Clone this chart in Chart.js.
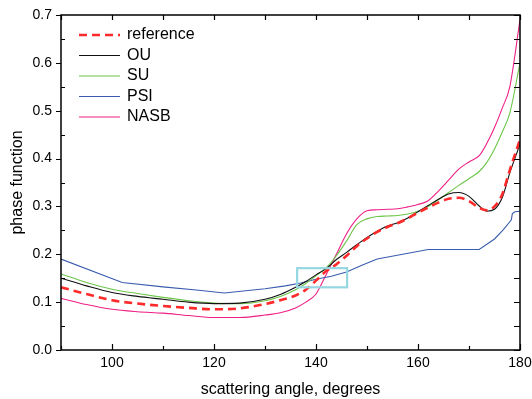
<!DOCTYPE html>
<html>
<head>
<meta charset="utf-8">
<script src="https://cdn.jsdelivr.net/npm/chart.js@4"></script>
<style>
  body { margin: 0; background: #fff; }
</style>
</head>
<body>
<canvas id="chart" width="532" height="399"></canvas>
<script>
// scattering angle grid for the smooth curves
const angles = [90, 95, 100, 105, 110, 115, 120, 125, 130, 133, 136, 138, 140, 142, 144, 146, 148, 150,
    152, 154, 156, 158, 160, 162, 164, 166, 168, 170, 172, 173.5, 175, 176.5, 178, 180];

const referenceValues = [0.131, 0.117, 0.104, 0.097, 0.092, 0.088, 0.085, 0.087, 0.096, 0.104, 0.114, 0.126, 0.145, 0.165,
    0.179, 0.197, 0.217, 0.233, 0.247, 0.257, 0.265, 0.275, 0.287, 0.298, 0.308, 0.316, 0.318, 0.311, 0.297,
    0.292, 0.300, 0.325, 0.376, 0.440];
const ouValues = [0.150, 0.134, 0.120, 0.112, 0.106, 0.100, 0.097, 0.098, 0.106, 0.116, 0.131, 0.143, 0.157, 0.170,
    0.189, 0.204, 0.220, 0.235, 0.248, 0.259, 0.266, 0.276, 0.289, 0.302, 0.315, 0.326, 0.329, 0.321, 0.301,
    0.290, 0.294, 0.318, 0.370, 0.430];
const suValues = [0.159, 0.141, 0.127, 0.118, 0.110, 0.103, 0.098, 0.097, 0.103, 0.112, 0.126, 0.139, 0.155, 0.172,
    0.197, 0.228, 0.262, 0.274, 0.279, 0.280, 0.281, 0.284, 0.290, 0.300, 0.314, 0.329, 0.344, 0.358, 0.373,
    0.392, 0.420, 0.455, 0.495, 0.600];
const nasbValues = [0.108, 0.095, 0.085, 0.080, 0.077, 0.072, 0.068, 0.068, 0.073, 0.078, 0.088, 0.100, 0.117, 0.158,
    0.200, 0.243, 0.274, 0.291, 0.293, 0.294, 0.295, 0.299, 0.304, 0.312, 0.332, 0.355, 0.378, 0.393, 0.406,
    0.432, 0.465, 0.505, 0.550, 0.690];

// PSI is a polyline with its own break points
const psiAngles = [90, 102, 110, 117, 122, 130, 134, 137, 140, 143, 146, 149, 152, 157, 162, 172, 175, 176.7, 178, 178.3, 178.5, 179, 180];
const psiValues = [0.190, 0.141, 0.132, 0.125, 0.119, 0.128, 0.134, 0.140, 0.148, 0.154, 0.163, 0.177, 0.190, 0.200, 0.210,
    0.210, 0.232, 0.251, 0.268, 0.272, 0.285, 0.289, 0.290];

const xTickValues = [100, 120, 140, 160, 180];
const yTickValues = [0, 0.1, 0.2, 0.3, 0.4, 0.5, 0.6, 0.7];

// highlighted region: [x0, x1, y0, y1]
const highlightBox = [136.3, 146.1, 0.131, 0.171];

const toPoints = (xs, ys) => xs.map((x, i) => ({ x: x, y: ys[i] }));

const FONT = "'Liberation Sans', Arial, sans-serif";

// frame, inward ticks and highlight box
const framePlugin = {
    id: "frame",
    afterDatasetsDraw(chart) {
        const { ctx, chartArea: a, scales } = chart;
        const xs = scales.x, ys = scales.y;
        ctx.save();
        ctx.strokeStyle = "#000";
        ctx.lineWidth = 1.5;
        ctx.strokeRect(a.left, a.top, a.right - a.left, a.bottom - a.top);

        ctx.lineWidth = 1.2;
        ctx.beginPath();
        for (let v = xs.min; v <= xs.max; v += 10) {
            const px = Math.round(xs.getPixelForValue(v)) + 0.5;
            const major = v % 20 === 0;
            ctx.moveTo(px, a.bottom);
            ctx.lineTo(px, a.bottom - (major ? 6 : 4));
            ctx.moveTo(px, a.top);
            ctx.lineTo(px, a.top + 5);
        }
        for (let v = ys.min; v <= ys.max + 1e-9; v += 0.05) {
            const py = Math.round(ys.getPixelForValue(v)) + 0.5;
            const major = Math.abs(v * 10 - Math.round(v * 10)) < 1e-6;
            if (major) {
                ctx.moveTo(a.left, py);
                ctx.lineTo(a.left - 5, py);
            } else {
                ctx.moveTo(a.left, py);
                ctx.lineTo(a.left + 4, py);
            }
            ctx.moveTo(a.right, py);
            ctx.lineTo(a.right - 6, py);
        }
        ctx.stroke();

        // highlight box
        const bx0 = xs.getPixelForValue(highlightBox[0]);
        const bx1 = xs.getPixelForValue(highlightBox[1]);
        const by0 = ys.getPixelForValue(highlightBox[2]);
        const by1 = ys.getPixelForValue(highlightBox[3]);
        ctx.strokeStyle = "#96d8e2";
        ctx.lineWidth = 2.2;
        ctx.strokeRect(bx0, by1, bx1 - bx0, by0 - by1);
        ctx.restore();
    }
};

// legend drawn inside the plot, upper left
const legendPlugin = {
    id: "insideLegend",
    afterDraw(chart) {
        const { ctx, chartArea: a } = chart;
        ctx.save();
        ctx.font = "16px " + FONT;
        ctx.textBaseline = "middle";
        ctx.fillStyle = "#000";
        chart.data.datasets.forEach((ds, i) => {
            const y = a.top + 20 + i * 20.5;
            ctx.strokeStyle = ds.borderColor;
            ctx.lineWidth = ds.borderWidth;
            ctx.setLineDash(ds.borderDash || []);
            ctx.beginPath();
            ctx.moveTo(a.left + 18, y);
            ctx.lineTo(a.left + 59, y);
            ctx.stroke();
            ctx.fillText(ds.label, a.left + 66, y);
        });
        ctx.restore();
    }
};

const datasets = [
    {
        label: "reference",
        data: toPoints(angles, referenceValues),
        borderColor: "#ff2a2a",
        borderWidth: 2.6,
        borderDash: [8, 5],
        cubicInterpolationMode: "monotone",
    },
    {
        label: "OU",
        data: toPoints(angles, ouValues),
        borderColor: "#111111",
        borderWidth: 1.1,
        cubicInterpolationMode: "monotone",
    },
    {
        label: "SU",
        data: toPoints(angles, suValues),
        borderColor: "#6cc64a",
        borderWidth: 1.1,
        cubicInterpolationMode: "monotone",
    },
    {
        label: "PSI",
        data: toPoints(psiAngles, psiValues),
        borderColor: "#3a5cae",
        borderWidth: 1.1,
        tension: 0,
    },
    {
        label: "NASB",
        data: toPoints(angles, nasbValues),
        borderColor: "#ee1f86",
        borderWidth: 1.1,
        cubicInterpolationMode: "monotone",
    },
];

new Chart(document.getElementById("chart").getContext("2d"), {
    type: "line",
    data: { datasets },
    options: {
        responsive: false,
        animation: false,
        devicePixelRatio: 1,
        layout: { padding: { top: 15, right: 12, left: 0, bottom: 0 } },
        elements: { point: { radius: 0 } },
        plugins: { legend: { display: false }, tooltip: { enabled: false } },
        scales: {
            x: {
                type: "linear",
                min: 90,
                max: 180,
                afterBuildTicks: (axis) => { axis.ticks = xTickValues.map((v) => ({ value: v })); },
                afterFit: (axis) => { axis.height = 49; axis.paddingLeft = 0; axis.paddingRight = 0; },
                grid: { display: false, drawTicks: false },
                border: { display: false },
                ticks: { color: "#000", font: { family: FONT, size: 14 }, padding: 5, maxRotation: 0, autoSkip: false },
                title: { display: true, text: "scattering angle, degrees", color: "#000",
                    font: { family: FONT, size: 16, lineHeight: 1 }, padding: { top: 0, bottom: 1 } },
            },
            y: {
                min: 0,
                max: 0.7,
                afterBuildTicks: (axis) => { axis.ticks = yTickValues.map((v) => ({ value: v })); },
                afterFit: (axis) => { axis.width = 61; axis.paddingTop = 0; axis.paddingBottom = 0; },
                grid: { display: false, drawTicks: false },
                border: { display: false },
                ticks: { color: "#000", font: { family: FONT, size: 14 }, padding: 9,
                    callback: (v) => Number(v).toFixed(1) },
                title: { display: true, text: "phase function", color: "#000",
                    font: { family: FONT, size: 16 }, padding: { top: 8, bottom: 0 } },
            },
        },
    },
    plugins: [framePlugin, legendPlugin],
});
</script>
</body>
</html>
